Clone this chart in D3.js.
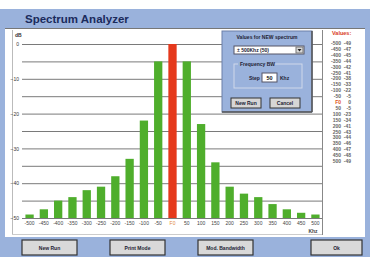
<!DOCTYPE html>
<html>
<head>
<meta charset="utf-8">
<script src="https://cdn.jsdelivr.net/npm/d3@7"></script>
<style>
  html, body { margin: 0; padding: 0; background: #fff; }
  svg { display: block; font-family: Arial, "Liberation Sans", sans-serif; }
</style>
</head>
<body>
<svg id="chart" width="370" height="257"></svg>
<script>
// offsets from the carrier, Khz
const freqs = [-500, -450, -400, -350, -300, -250, -200, -150, -100, -50, 0,
  50, 100, 150, 200, 250, 300, 350, 400, 450, 500];
// measured level, dB
const levels = [-49, -47.5, -45, -44, -42, -41, -38, -33, -22, -5, 0,
  -5, -23, -34, -41, -43, -44, -46, -47.5, -48.5, -49];
const dbTicks = [0, -10, -20, -30, -40, -50];
const dbGrid = [0, -5, -10, -15, -20, -25, -30, -35, -40, -45, -50];
const buttons = ['New Run', 'Print Mode', 'Mod. Bandwidth', 'Ok'];

const svg = d3.select('#chart');
const BLUE = '#9ab2dc';
const GREEN = '#4fae2c';
const RED = '#e5391c';

const fLabel = f => f === 0 ? 'F0' : String(f);

// window frame
svg.append('rect').attr('x', 0).attr('y', 9).attr('width', 370).attr('height', 248).attr('fill', BLUE);
svg.append('text').attr('x', 25).attr('y', 22.5)
  .style('font-size', '11.5px').style('font-weight', 'bold').attr('fill', '#1b2b5c')
  .text('Spectrum Analyzer');

// white panel
svg.append('rect').attr('x', 5).attr('y', 28).attr('width', 360).attr('height', 209).attr('fill', '#fff');
svg.append('line').attr('x1', 5).attr('x2', 365).attr('y1', 28.5).attr('y2', 28.5).attr('stroke', '#777');
svg.append('line').attr('x1', 12.5).attr('x2', 12.5).attr('y1', 30).attr('y2', 235).attr('stroke', '#bbb');
svg.append('line').attr('x1', 322.5).attr('x2', 322.5).attr('y1', 30).attr('y2', 235).attr('stroke', '#888');
svg.append('line').attr('x1', 12).attr('x2', 322).attr('y1', 234.5).attr('y2', 234.5).attr('stroke', '#ccc');

// scales
const x = d3.scaleBand().domain(freqs).range([24, 321]).paddingInner(0.42).paddingOuter(0.1);
const y = d3.scaleLinear().domain([-50, 0]).range([218, 44]);

// grid
svg.append('g').selectAll('line').data(dbGrid).enter().append('line')
  .attr('x1', 22).attr('x2', 322)
  .attr('y1', d => y(d) + 0.5).attr('y2', d => y(d) + 0.5)
  .attr('stroke', '#7a7a7a').attr('stroke-width', 1);

// y axis labels
const yAxis = d3.axisLeft(y).tickValues(dbTicks).tickSize(0).tickPadding(3);
svg.append('g').attr('transform', 'translate(22,0)').call(yAxis)
  .call(g => g.select('.domain').remove())
  .call(g => g.selectAll('text').style('font-size', '5px').attr('fill', '#333').attr('font-family', 'Arial'));
svg.append('text').attr('x', 15).attr('y', 37).style('font-size', '5px').style('font-weight', 'bold').attr('fill', '#333').text('dB');

// bars
svg.append('g').selectAll('rect').data(freqs).enter().append('rect')
  .attr('x', d => x(d))
  .attr('width', x.bandwidth())
  .attr('y', (d, i) => y(levels[i]))
  .attr('height', (d, i) => y(-50) - y(levels[i]))
  .attr('fill', d => d === 0 ? RED : GREEN);

// x axis labels
const xAxis = d3.axisBottom(x).tickSize(0).tickPadding(3).tickFormat(fLabel);
svg.append('g').attr('transform', 'translate(0,218)').call(xAxis)
  .call(g => g.select('.domain').remove())
  .call(g => g.selectAll('text').style('font-size', '5px').attr('font-family', 'Arial')
    .attr('fill', d => d === 0 ? '#e08a40' : '#444'));
svg.append('text').attr('x', 313).attr('y', 233).style('font-size', '5px').style('font-weight', 'bold')
  .attr('text-anchor', 'middle').attr('fill', '#444').text('Khz');

// values list
svg.append('text').attr('x', 332).attr('y', 35).style('font-size', '5.5px').style('font-weight', 'bold')
  .attr('fill', '#d83a1c').text('Values:');
const rowY = d3.scalePoint().domain(freqs).range([45, 163]);
const rows = svg.append('g').selectAll('g').data(freqs).enter().append('g')
  .attr('transform', d => `translate(0,${rowY(d)})`);
rows.append('text').attr('x', 341).attr('text-anchor', 'end').style('font-size', '5px').style('font-weight', 'bold')
  .attr('fill', d => d === 0 ? '#e05020' : '#666').text(fLabel);
rows.append('text').attr('x', 351).attr('text-anchor', 'end').style('font-size', '5px').style('font-weight', 'bold')
  .attr('fill', '#666').text((d, i) => Math.round(levels[i]));

// dialog: values for new spectrum
const dlg = svg.append('g').attr('transform', 'translate(222,31)');
dlg.append('rect').attr('width', 90).attr('height', 81).attr('fill', BLUE).attr('stroke', '#6a7fa8');
dlg.append('line').attr('x1', 90).attr('x2', 90).attr('y1', 0).attr('y2', 81).attr('stroke', '#555').attr('stroke-width', 1.5);
dlg.append('line').attr('x1', 0).attr('x2', 90).attr('y1', 81).attr('y2', 81).attr('stroke', '#555').attr('stroke-width', 1.5);
dlg.append('text').attr('x', 45).attr('y', 8).attr('text-anchor', 'middle').style('font-size', '5px').style('font-weight', 'bold')
  .attr('fill', '#223').text('Values for NEW spectrum');
dlg.append('rect').attr('x', 12).attr('y', 15).attr('width', 70).attr('height', 8).attr('fill', '#fff').attr('stroke', '#556');
dlg.append('text').attr('x', 15).attr('y', 21).style('font-size', '5px').style('font-weight', 'bold').attr('fill', '#223').text('± 500Khz  (50)');
dlg.append('rect').attr('x', 74).attr('y', 16).attr('width', 7).attr('height', 6).attr('fill', '#d8d8d8').attr('stroke', '#777');
dlg.append('path').attr('d', 'M75.5,18 L79.5,18 L77.5,20.5 Z').attr('fill', '#222');
dlg.append('rect').attr('x', 12).attr('y', 33).attr('width', 68).attr('height', 24).attr('fill', 'none').attr('stroke', '#cfd8ea');
dlg.append('rect').attr('x', 16).attr('y', 30).attr('width', 32).attr('height', 6).attr('fill', BLUE);
dlg.append('text').attr('x', 18).attr('y', 35).style('font-size', '5px').style('font-weight', 'bold').attr('fill', '#223').text('Frequency BW');
dlg.append('text').attr('x', 27).attr('y', 49).style('font-size', '5px').style('font-weight', 'bold').attr('fill', '#223').text('Step');
dlg.append('rect').attr('x', 40).attr('y', 42).attr('width', 15).attr('height', 9).attr('fill', '#fff').attr('stroke', '#556');
dlg.append('text').attr('x', 47.5).attr('y', 49).attr('text-anchor', 'middle').style('font-size', '5.5px').style('font-weight', 'bold').attr('fill', '#111').text('50');
dlg.append('text').attr('x', 58).attr('y', 49).style('font-size', '5px').style('font-weight', 'bold').attr('fill', '#223').text('Khz');
[['New Run', 9], ['Cancel', 48]].forEach(([label, bx]) => {
  dlg.append('rect').attr('x', bx).attr('y', 67).attr('width', 30).attr('height', 10)
    .attr('fill', '#d6d6d6').attr('stroke', '#333').attr('stroke-width', 1);
  dlg.append('text').attr('x', bx + 15).attr('y', 74).attr('text-anchor', 'middle')
    .style('font-size', '5px').style('font-weight', 'bold').attr('fill', '#223').text(label);
});

// bottom buttons
const btnX = d3.scalePoint().domain(buttons.slice(0, 3)).range([22, 198]);
const btnPos = buttons.map(b => b === 'Ok' ? 311 : btnX(b));
svg.append('g').selectAll('g').data(buttons).enter().append('g')
  .attr('transform', (d, i) => `translate(${btnPos[i]},240)`)
  .each(function (d) {
    const g = d3.select(this);
    g.append('rect').attr('width', d === 'Ok' ? 51 : 55).attr('height', 15)
      .attr('fill', '#d9d9d9').attr('stroke', '#333').attr('stroke-width', 1.2);
    g.append('text').attr('x', d === 'Ok' ? 25.5 : 27.5).attr('y', 9.5).attr('text-anchor', 'middle')
      .style('font-size', '5px').style('font-weight', 'bold').attr('fill', '#223').text(d);
  });
</script>
</body>
</html>
